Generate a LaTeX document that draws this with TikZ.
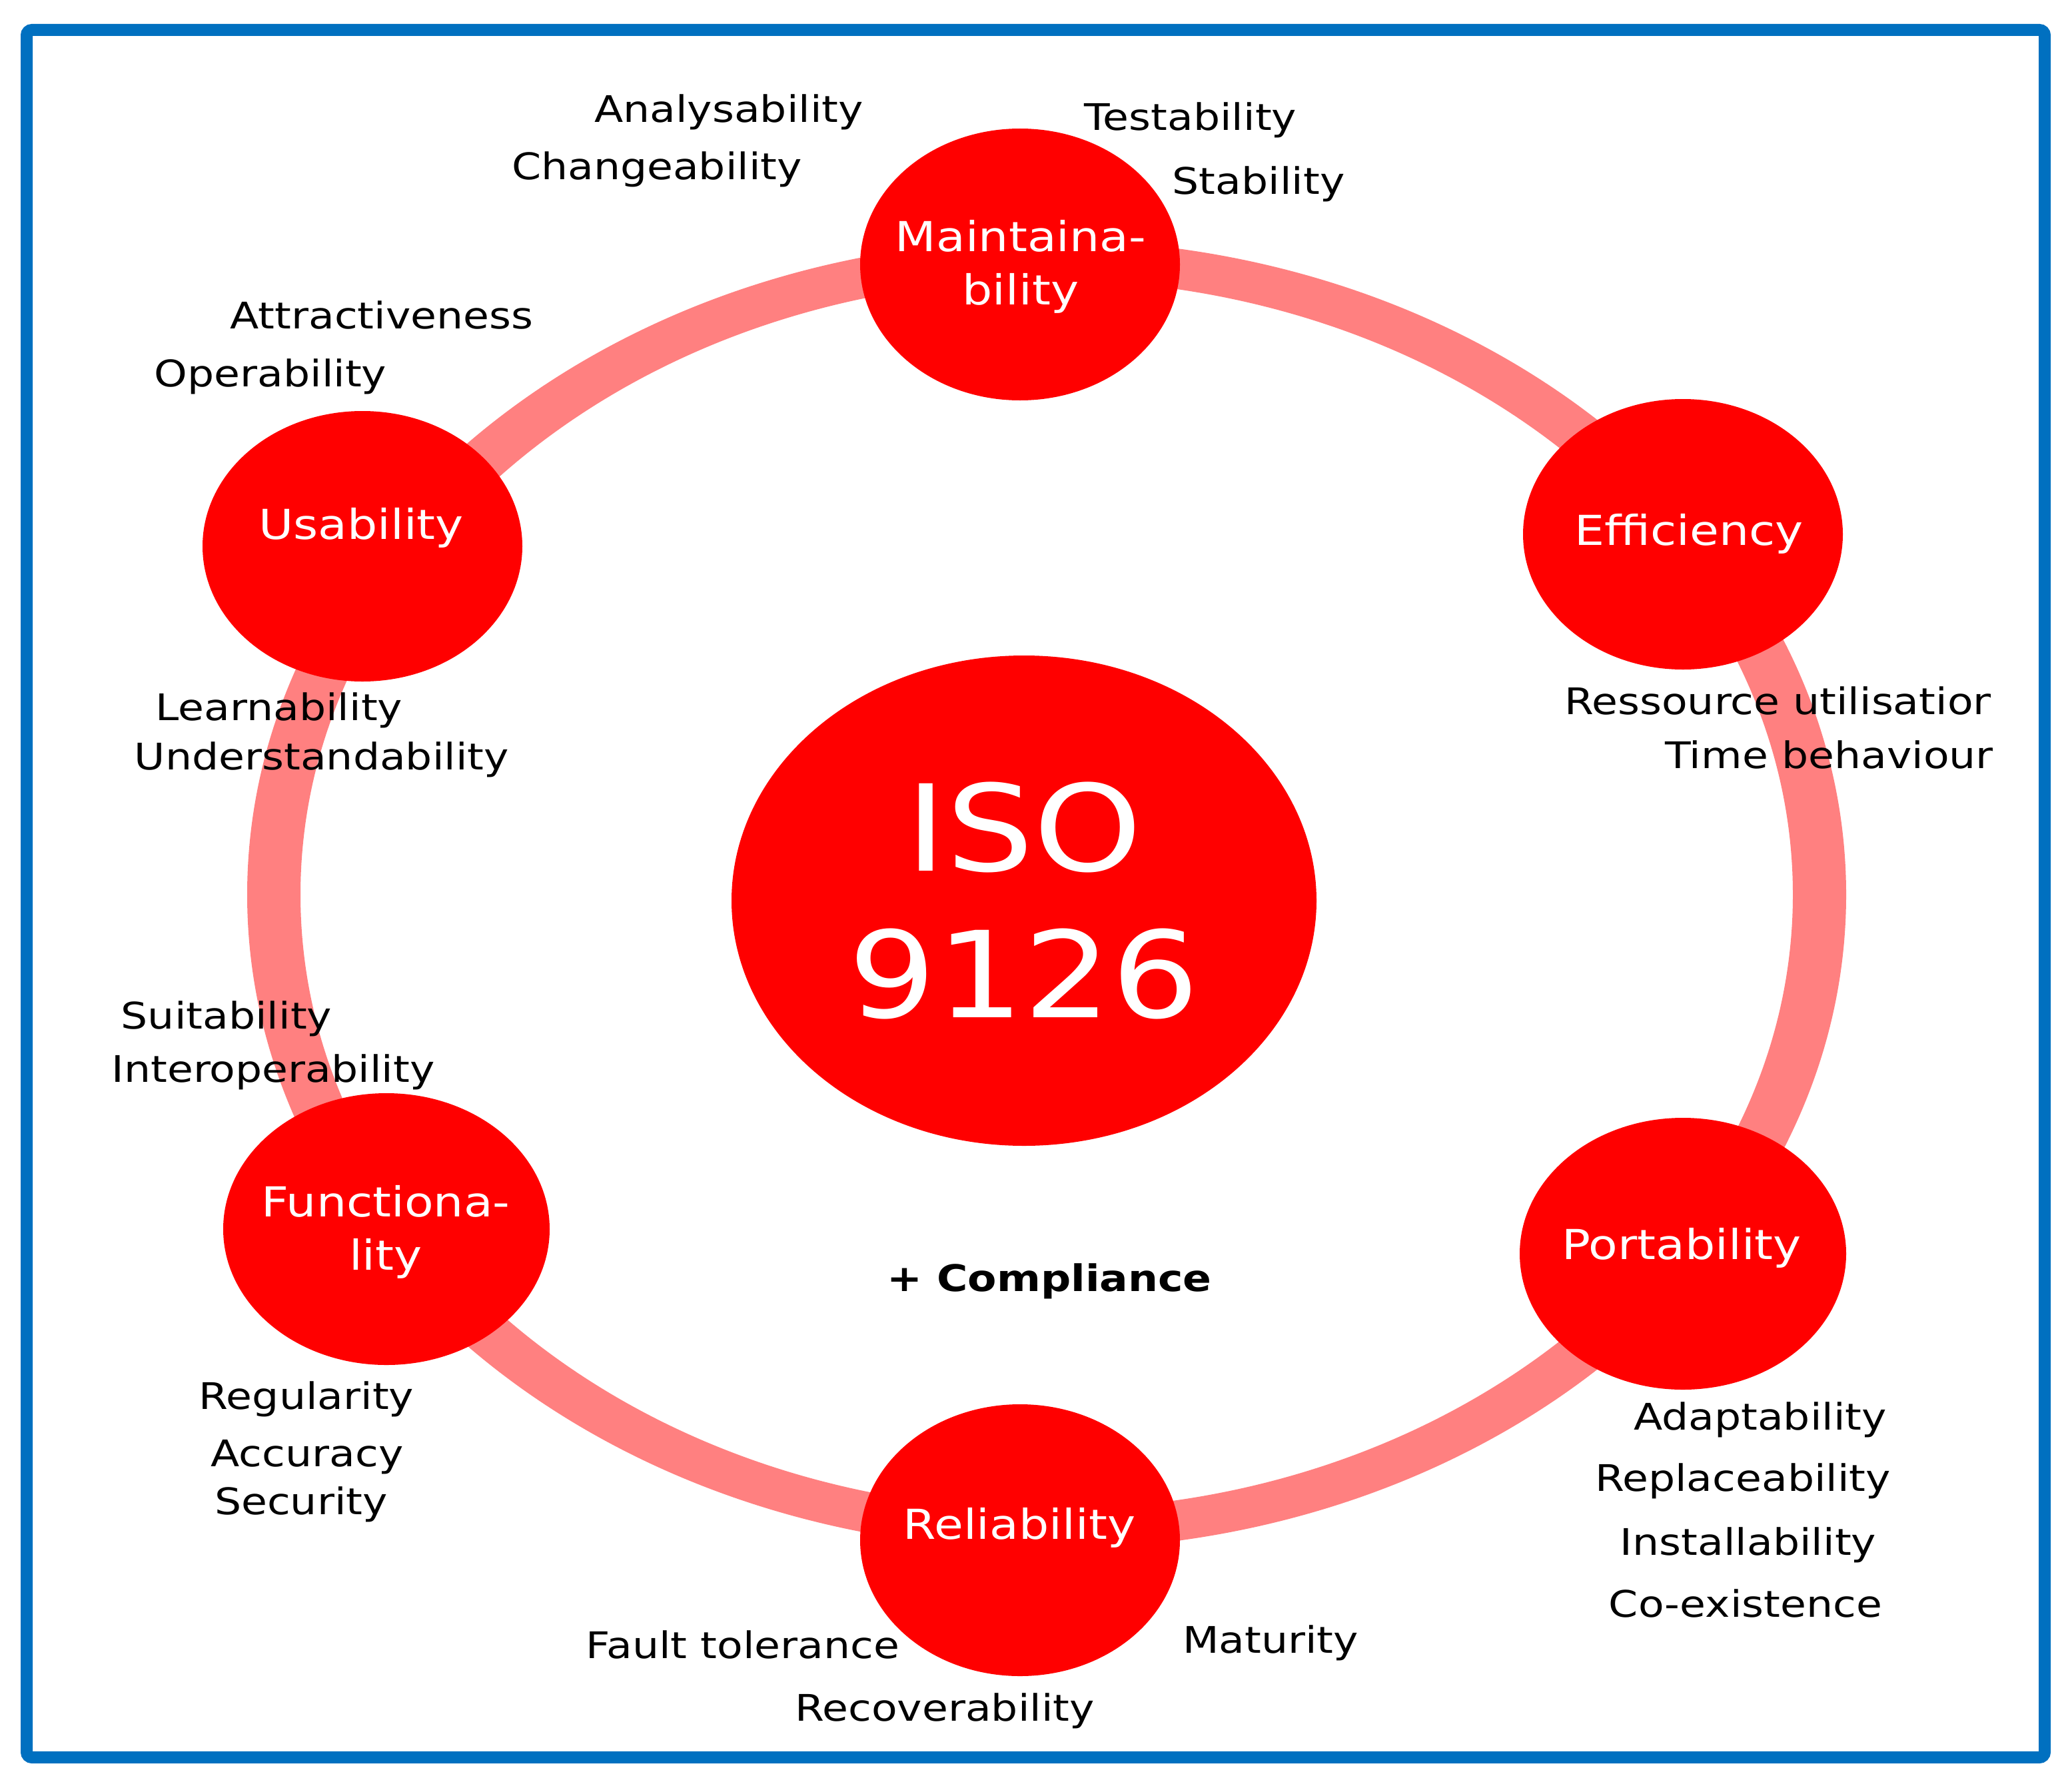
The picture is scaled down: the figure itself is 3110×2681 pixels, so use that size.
\documentclass[tikz,border=0pt]{standalone}
\usepackage{fontspec}
\setmainfont{DejaVu Sans}[FakeStretch=1.15]
\usetikzlibrary{shapes.geometric}
\definecolor{frameblue}{RGB}{0,112,192}
\definecolor{ringpink}{RGB}{255,128,128}
\definecolor{bubred}{RGB}{255,0,0}
\begin{document}
\begin{tikzpicture}[x=1pt,y=-1pt,
  bubble/.style={ellipse, fill=bubred, draw=none, inner sep=0pt, text=white,
    align=center, font=\fontsize{62}{80}\selectfont},
  bubtext/.style={text=white, font=\fontsize{62}{80}\selectfont, anchor=base, inner sep=0pt, align=center},
  lbl/.style={text=black, font=\fontsize{55}{66}\selectfont, anchor=base, inner sep=0pt},
]
\useasboundingbox (0,0) rectangle (3110,2681);
\fill[white] (0,0) rectangle (3110,2681);
% frame
\draw[frameblue, line width=18pt, rounded corners=8pt] (40,45) rectangle (3069,2638);
% ring
\fill[ringpink, even odd rule]
  (1571,1343) ellipse [x radius=1200pt, y radius=983pt]
  (1571,1343) ellipse [x radius=1120pt, y radius=923pt];
% bubbles
\node[bubble, minimum width=480pt, minimum height=408pt] (maint) at (1531,397) {};
\node[bubble, minimum width=480pt, minimum height=406pt] (effic) at (2526,802) {};
\node[bubble, minimum width=480pt, minimum height=406pt] (usab) at (544,820) {};
\node[bubble, minimum width=490pt, minimum height=408pt] (func) at (580,1845) {};
\node[bubble, minimum width=490pt, minimum height=408pt] (port) at (2526,1882) {};
\node[bubble, minimum width=480pt, minimum height=408pt] (relia) at (1531,2312) {};
\node[bubble, minimum width=878pt, minimum height=736pt, font=\fontsize{180}{220}\selectfont] (iso) at (1537,1352) {ISO\\9126};
% bubble labels
\node[bubtext, anchor=center] (maintT) at (1532,400) {Maintaina-\\bility};
\node[bubtext, anchor=center] (funcT) at (579,1849) {Functiona-\\lity};
\node[bubtext] (efficT) at (2535,818) {Efficiency};
\node[bubtext] (usabT) at (542,809) {Usability};
\node[bubtext] (portT) at (2524,1890) {Portability};
\node[bubtext] (reliaT) at (1530,2310) {Reliability};
% sub-characteristics
\node[lbl] (analys) at (1094,184) {Analysability};
\node[lbl] (change) at (986,270) {Changeability};
\node[lbl] (testab) at (1787,196) {Testability};
\node[lbl] (stabil) at (1889,291) {Stability};
\node[lbl] (attrac) at (573,493) {Attractiveness};
\node[lbl] (operab) at (406,580) {Operability};
\node[lbl] (learna) at (419,1081) {Learnability};
\node[lbl] (unders) at (483,1155) {Understandability};
\begin{scope}
\clip (0,0) rectangle (2987,2681);
\node[lbl, anchor=base west] (ressou) at (2348,1072) {Ressource utilisation};
\end{scope}
\node[lbl, anchor=base east] (timebe) at (2992,1153) {Time behaviour};
\node[lbl] (suitab) at (340,1544) {Suitability};
\node[lbl] (intero) at (410,1624) {Interoperability};
\node[lbl] (regula) at (460,2115) {Regularity};
\node[lbl] (accura) at (461,2201) {Accuracy};
\node[lbl] (securi) at (452,2273) {Security};
\node[lbl] (adapta) at (2642,2146) {Adaptability};
\node[lbl] (replac) at (2616,2238) {Replaceability};
\node[lbl] (instal) at (2624,2334) {Installability};
\node[lbl] (coexis) at (2620,2427) {Co-existence};
\node[lbl] (faultt) at (1115,2489) {Fault tolerance};
\node[lbl] (maturi) at (1907,2481) {Maturity};
\node[lbl] (recove) at (1418,2583) {Recoverability};
\node[lbl, font=\fontsize{55}{66}\selectfont\bfseries] (compli) at (1575,1938) {+ Compliance};
\end{tikzpicture}
\end{document}
